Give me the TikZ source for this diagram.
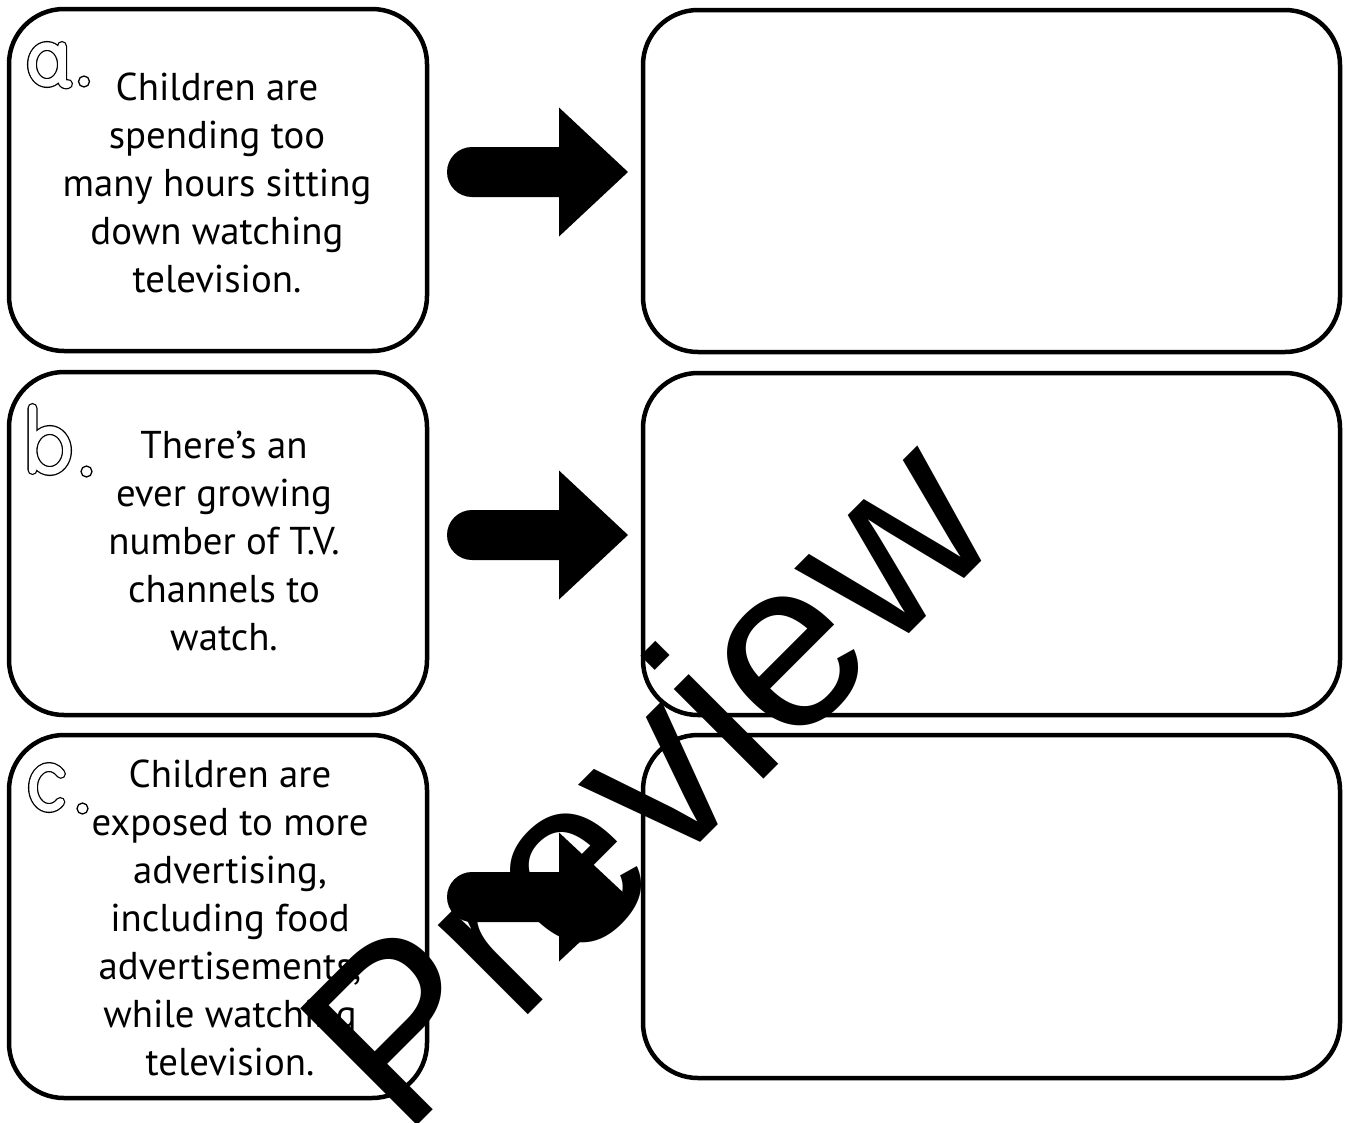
\documentclass[tikz,border=0pt]{standalone}
\usepackage{fontspec}
\setmainfont{PT Sans}
\newfontfamily\markfont{Liberation Sans}

\tikzset{
  card/.style={draw, line width=4.5pt, rounded corners=55pt, inner sep=0pt},
  cardtext/.style={align=center, inner sep=0pt, font=\fontsize{38.8}{48}\selectfont},
  letter/.style={draw=black, double=white, double distance=7.5pt, line width=1.3pt, line cap=round, line join=round},
  ring/.style={line width=1.3pt},
}

\begin{document}
\begin{tikzpicture}[x=1pt, y=-1pt]
  \fill[white] (0,0) rectangle (1348,1122);
  \useasboundingbox (0,0) rectangle (1348,1122);

  % left column
  \node[card, minimum width=418pt, minimum height=342pt] (leftA) at (218,180) {};
  \node[card, minimum width=418pt, minimum height=343pt] (leftB) at (218,543.5) {};
  \node[card, minimum width=418pt, minimum height=363pt] (leftC) at (218,916.5) {};

  % right column
  \node[card, minimum width=697pt, minimum height=342pt] (rightA) at (991.5,181) {};
  \node[card, minimum width=697pt, minimum height=342pt] (rightB) at (991.5,544) {};
  \node[card, minimum width=697pt, minimum height=343pt] (rightC) at (991.5,906.5) {};

  % arrows
  \foreach \yy in {172,535,897} {
    \fill[shift={(0,\yy)}] (472,-25) -- (559,-25) -- (559,-64.5) -- (628,0)
      -- (559,64.5) -- (559,25) -- (472,25) arc[start angle=90, end angle=270, radius=25] -- cycle;
  }

  % texts
  \node[cardtext] (textA) at (217,182.5) {Children are\\spending too\\many hours sitting\\down watching\\television.};
  \node[cardtext] (textB) at (224,540.5) {There’s an\\ever growing\\number of T.V.\\channels to\\watch.};
  \node[cardtext] (textC) at (230,917.5) {Children are\\exposed to more\\advertising,\\including food\\advertisements,\\while watching\\television.};

  % a.
  \draw[letter] (47,64.5) ellipse [x radius=15, y radius=18.5]
    (62,46) -- (62,79) .. controls (62,84) and (65,85) .. (68,84);
  \draw[ring] (84,81.5) circle [radius=5.5];
  % b.
  \draw[letter] (32.5,408) -- (32.5,470)
    (49.75,450.5) ellipse [x radius=17.25, y radius=20.5];
  \draw[ring] (86.5,471.5) circle [radius=5.5];
  % c.
  \draw[letter] (49,787.5) ++(45:16 and 20.5) arc [start angle=45, end angle=318, x radius=16, y radius=20.5];
  \draw[ring] (82.5,808.5) circle [radius=5.5];

  % watermark
  \node[font=\markfont\fontsize{240}{240}\selectfont, rotate=45, inner sep=0pt, anchor=base] (stamp) at (705,838) {Preview};
\end{tikzpicture}
\end{document}
